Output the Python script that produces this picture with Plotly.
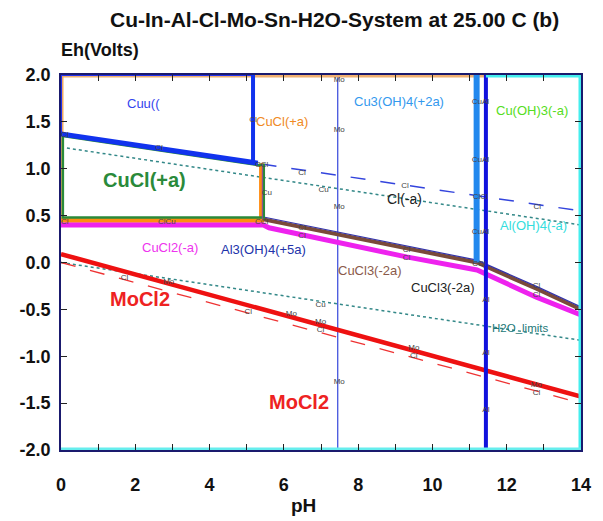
import plotly.graph_objects as go

# ---------------- data ----------------
ph_ticks = list(range(0, 15))
ph_labels = [str(v) if v % 2 == 0 else "" for v in ph_ticks]
eh_ticks = [-2.0, -1.5, -1.0, -0.5, 0.0, 0.5, 1.0, 1.5, 2.0]
eh_labels = ["%.1f" % v for v in eh_ticks]

# Cuu(( region boundary (blue)
cuu_slope_x = [0.0, 5.3]
cuu_slope_y = [1.37, 1.06]
cuu_vert_x = [5.17, 5.17]
cuu_vert_y = [1.07, 2.0]
cuu_top_x = [0.0, 5.17]
cuu_top_y = [2.0, 2.0]
cuu_left_x = [0.0, 0.0]
cuu_left_y = [1.37, 2.0]

# orange CuCl(+a) boundary
orange_top_x = [0.0, 11.44]
orange_top_y = [2.0, 2.0]
orange_left_x = [0.0, 0.0]
orange_left_y = [2.0, 0.45]
orange_low_x = [0.0, 5.40, 5.40]
orange_low_y = [0.45, 0.45, 1.06]

# green CuCl(+a) box
green_x = [0.05, 5.30, 5.46, 5.46, 0.05, 0.05]
green_y = [1.35, 1.04, 1.04, 0.48, 0.48, 1.35]

# magenta CuCl2(-a)
mag_x = [0.0, 5.45, 5.6, 9.3, 11.2, 12.8, 14.0]
mag_y = [0.40, 0.40, 0.37, 0.06, -0.08, -0.37, -0.56]

# brown CuCl3(-2a)
brown_x = [5.45, 9.3, 11.2, 12.8, 14.0]
brown_y = [0.46, 0.155, 0.0, -0.28, -0.50]
navy_y = [0.485, 0.18, 0.025, -0.255, -0.475]

# MoCl2 (red)
red_x = [0.0, 14.0]
red_y = [0.09, -1.43]
red_dash_x = [0.0, 14.0]
red_dash_y = [0.0, -1.50]

# H2O limits
h2o_x = [0.0, 14.0]
h2o_up_y = [1.23, 0.40]
h2o_lo_y = [0.0, -0.83]

# Cl(-a) dashed
cl_x = [5.4, 14.0]
cl_y = [1.05, 0.55]

# vertical boundaries
mo_x = [7.45, 7.45]
mo_y = [-2.0, 2.0]
cu3_x = [11.19, 11.19]
cu3_y = [0.0, 2.0]
al_x = [11.44, 11.44]
al_y = [-2.0, 2.0]
purple_x = [5.42, 5.42]
purple_y = [1.05, 0.46]

# cyan Al(OH)4 boundary
cyan_top_x = [11.44, 14.0]
cyan_top_y = [2.0, 2.0]
cyan_right_x = [14.0, 14.0]
cyan_right_y = [2.0, -2.0]
cyan_bot_x = [0.0, 14.0]
cyan_bot_y = [-2.0, -2.0]

# region labels
reg_text = ["Cuu((", "CuCl(+a)", "Cu3(OH)4(+2a)", "Cu(OH)3(-a)", "CuCl(+a)", "Cl(-a)",
            "Al(OH)4(-a)", "CuCl2(-a)", "Al3(OH)4(+5a)", "CuCl3(-2a)", "CuCl3(-2a)",
            "MoCl2", "H2O_limits", "MoCl2"]
reg_x = [2.22, 5.96, 9.10, 12.67, 2.25, 9.24, 12.72, 2.93, 5.46, 8.31, 10.29, 2.14, 12.37, 6.40]
reg_y = [1.70, 1.50, 1.72, 1.62, 0.88, 0.68, 0.39, 0.165, 0.14, -0.08, -0.27, -0.39, -0.70, -1.49]
reg_color = ["#3344ee", "#f08a24", "#3399ee", "#55dd22", "#2a8a3a", "#222222",
             "#33dddd", "#ee33ee", "#2233aa", "#8b5a4a", "#222222", "#ee2222", "#227777", "#ee2222"]
reg_size = [13, 13, 13, 13, 20, 14, 13, 13, 13, 13, 13, 20, 11.5, 20]
reg_bold = [False, False, False, False, True, False, False, False, False, False, False, True, False, True]

# small element labels
el_text = ["Cl", "Cl", "Cl", "CCl", "Cu", "Cl", "ClCu", "CCl", "Cl", "Cu", "Cl", "Cl",
           "Mo", "Mo", "Mo", "Mo", "Cu", "Mo", "Cl", "Mo", "Cl", "Mo", "Cl",
           "Cl", "Mo", "Cl", "Mo", "CuAl", "CuAl", "ClCl", "CuAl", "Al", "Al", "Al",
           "Cl", "Cl", "CCl", "Cl", "Cl", "Cl", "Cl"]
el_x = [0.10, 2.64, 5.17, 5.40, 5.54, 0.10, 2.85, 5.40, 6.49, 7.07, 9.26, 12.82,
        7.49, 7.49, 7.49, 7.49, 6.99, 6.99, 6.99, 9.50, 9.50, 12.80, 12.80,
        1.71, 2.90, 5.04, 6.20, 11.29, 11.29, 11.29, 11.29, 11.44, 11.44, 11.44,
        9.30, 9.30, 11.25, 12.80, 12.80, 6.49, 6.49]
el_y = [1.36, 1.22, 1.52, 1.04, 0.74, 0.43, 0.43, 0.43, 0.96, 0.77, 0.82, 0.59,
        1.95, 1.41, 0.59, -1.27, -0.45, -0.63, -0.72, -0.91, -1.00, -1.31, -1.39,
        -0.17, -0.21, -0.53, -0.55, 1.71, 1.09, 0.70, 0.33, -0.40, -0.97, -1.57,
        0.13, 0.05, -0.02, -0.25, -0.35, 0.37, 0.28]

# ---------------- figure ----------------
fig = go.Figure()


def line(x, y, color, width, dash="solid"):
    fig.add_trace(go.Scatter(x=x, y=y, mode="lines", hoverinfo="skip",
                             line=dict(color=color, width=width, dash=dash),
                             showlegend=False))


line(h2o_x, h2o_up_y, "#338888", 1.5, "dot")
line(h2o_x, h2o_lo_y, "#338888", 1.5, "dot")
line(cl_x, cl_y, "#3344dd", 1.5, "longdash")
line(mo_x, mo_y, "#4455dd", 1.3)
line(red_dash_x, red_dash_y, "#ee3333", 1.3, "longdash")
line(red_x, red_y, "#ee1111", 4.5)
line(orange_top_x, orange_top_y, "#f0b070", 5)
line(orange_left_x, orange_left_y, "#f0a860", 5)
line(cuu_top_x, cuu_top_y, "#2233ee", 2)
line(cuu_left_x, cuu_left_y, "#2233ee", 2)
line(orange_low_x, orange_low_y, "#ff8c10", 5)
line(mag_x, mag_y, "#ee22ee", 5)
line(brown_x, brown_y, "#7a4a3a", 4)
line(brown_x, navy_y, "#3333aa", 1.2)
line(green_x, green_y, "#2a8a3a", 2.5)
line(purple_x, purple_y, "#8844aa", 1)
line(cuu_slope_x, cuu_slope_y, "#1133ee", 5)
line(cuu_vert_x, cuu_vert_y, "#1133ee", 4)
line(cu3_x, cu3_y, "#2288ee", 6)
line(al_x, al_y, "#1111dd", 4)
line(cyan_top_x, cyan_top_y, "#44eeee", 5)
line(cyan_right_x, cyan_right_y, "#44eeee", 5)
line(cyan_bot_x, cyan_bot_y, "#66eeee", 5)

fig.add_trace(go.Scatter(x=el_x, y=el_y, mode="text", text=el_text, hoverinfo="skip",
                         textfont=dict(family="Liberation Sans", size=8, color="#444444"),
                         showlegend=False, cliponaxis=False))

for t, x, y, c, s, b in zip(reg_text, reg_x, reg_y, reg_color, reg_size, reg_bold):
    fig.add_annotation(x=x, y=y, text=t, showarrow=False, xanchor="center", yanchor="middle",
                       font=dict(family="Liberation Sans", size=s, color=c,
                                 weight="bold" if b else "normal"))

fig.add_annotation(xref="paper", yref="paper", x=0.525, y=1.147, xanchor="center", yanchor="middle",
                   text="Cu-In-Al-Cl-Mo-Sn-H2O-System at 25.00 C (b)",
                   showarrow=False, font=dict(family="Liberation Sans", size=21, color="#111111", weight="bold"))
fig.add_annotation(xref="paper", yref="paper", x=-0.004, y=1.067, xanchor="left", yanchor="middle",
                   text="Eh(Volts)",
                   showarrow=False, font=dict(family="Liberation Sans", size=18, color="#111111", weight="bold"))
fig.add_annotation(xref="paper", yref="paper", x=0.467, y=-0.147, xanchor="center", yanchor="middle",
                   text="pH",
                   showarrow=False, font=dict(family="Liberation Sans", size=19, color="#111111", weight="bold"))

axis_common = dict(showgrid=False, zeroline=False, showline=True, linecolor="#1a1a6e", linewidth=1.5,
                   mirror="ticks", ticks="inside", ticklen=6, tickcolor="#222222", tickwidth=1.2,
                   tickfont=dict(family="Liberation Sans", size=18, color="#111111", weight="bold"))

fig.update_layout(
    width=595, height=513,
    margin=dict(l=49, r=15, t=67, b=71),
    paper_bgcolor="white", plot_bgcolor="white",
    xaxis=dict(range=[0, 14], tickvals=ph_ticks, ticktext=ph_labels, ticklabelstandoff=18, **axis_common),
    yaxis=dict(range=[-2, 2], tickvals=eh_ticks, ticktext=eh_labels, ticklabelstandoff=5, **axis_common),
)

fig.write_html("out.html")
